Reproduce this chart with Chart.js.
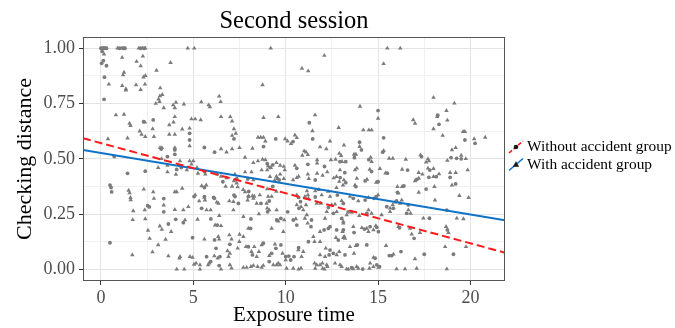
<!DOCTYPE html>
<html>
<head>
<meta charset="utf-8">
<script src="https://cdn.jsdelivr.net/npm/chart.js@4.4.0/dist/chart.umd.min.js"></script>
<style>
  html, body { margin: 0; padding: 0; background: #fff; }
  #wrap { width: 675px; height: 328px; }
</style>
</head>
<body>
<div id="wrap"><canvas id="myChart" width="675" height="328"></canvas></div>
<script>
// axis ranges and labelled ticks
var xRange = [-0.97, 21.87]
var yRange = [-0.053, 1.051]
var xTicks = [0, 5, 10, 15, 20]
var yTicks = [0, 0.25, 0.5, 0.75, 1]
var xGrid = [0, 2.5, 5, 7.5, 10, 12.5, 15, 17.5, 20]
var yGrid = [0, 0.125, 0.25, 0.375, 0.5, 0.625, 0.75, 0.875, 1]

var groups = ['Without accident group', 'With accident group']

// fitted lines, value at left and right panel edge
var withoutFit = [0.593, 0.075]
var withFit = [0.54, 0.222]

// points, [exposure time, checking distance]
var withoutPts = [
  [0,1],[0.1,1],[0.2,1],[0.3,1],[1.0,1],[1.2,1],[1.3,1],[2.15,1],[2.35,1],
  [0.07,0.985],[0.13,0.944],[0.04,0.932],[0.19,0.869],[0.17,0.769],[0.3,0.921],
  [2.83,0.676],[2.31,0.668],[3.26,0.544],[4.0,0.54],[4.0,0.52],[3.6,0.51],[0.72,0.51],
  [0.49,0.381],[0.55,0.37],[0.58,0.35],[0.49,0.12],[1.44,0.434],[2.4,0.444],[2.62,0.282],[3.4,0.32],
  [3.4,0.26],[4.05,0.226],[2.53,0.288],[3.65,0.205],[4.1,0.452],
  [4.8,0.615],[4.8,0.585],[5.6,0.551],[6.15,0.53],[7.2,0.59],[8.8,0.555],[9.46,0.59],[10.4,0.578],
  [11.46,0.59],[9.0,0.478],[9.15,0.46],[9.3,0.472],[10.6,0.457],[11.2,0.475],[12.1,0.465],[11.6,0.404],
  [12.95,0.415],[4.35,0.46],[5.6,0.442],[7.35,0.41],[7.95,0.408],[9.55,0.41],[9.65,0.404],[5.6,0.37],
  [6.1,0.325],[6.6,0.396],[7.2,0.336],[8.0,0.352],[9.3,0.375],[10.7,0.325],[11.6,0.327],[12.8,0.336],
  [4.46,0.211],[5.04,0.329],[5.6,0.329],[6.14,0.321],[5.45,0.276],[5.95,0.228],[6.3,0.2],[4.96,0.143],
  [6.15,0.133],[6.23,0.095],[5.72,0.057],[5.94,0.035],[6.4,0.017],[7.26,0.329],[7.44,0.298],[8.12,0.228],
  [7.98,0.329],[8.66,0.298],[9.11,0.309],[9.02,0.26],[9.51,0.223],[9.74,0.23],[8.1,0.185],[6.98,0.113],
  [7.98,0.102],[8.2,0.065],[8.79,0.118],[9.24,0.072],[9.47,0.095],[9.11,0.035],[9.74,0.11],[10.0,0.057],
  [10.17,0.06],[10.27,0.042],[10.41,0.223],[10.6,0.2],[10.11,0.26],[10.7,0.098],[10.45,0.057],[11.4,0.223],
  [11.37,0.193],[11.23,0.125],[10.8,0.306],[10.72,0.276],[12.35,0.065],[12.4,0.087],[12.58,0.072],
  [12.08,0.178],[12.31,0.185],[12.85,0.132],[12.31,0.279],[12.58,0.253],[12.4,0.193],[13.03,0.23],
  [12.76,0.178],[6.44,0.057],
  [14.0,0.575],[14.1,0.54],[15.25,0.53],[13.72,0.505],[14.5,0.496],[17.35,0.51],[18.95,0.505],[19.25,0.502],
  [19.5,0.5],[12.94,0.487],[13.25,0.487],[13.2,0.437],[14.65,0.442],[15.5,0.435],[16.6,0.449],[17.8,0.449],
  [17.75,0.416],[18.15,0.419],[18.9,0.416],[13.25,0.392],[13.8,0.374],[14.3,0.4],[15.0,0.396],[17.1,0.407],
  [16.4,0.377],[16.05,0.348],[17.6,0.363],[19.2,0.386],[14.9,0.329],[15.3,0.595],[18.3,0.656],[19.7,0.585],
  [20.25,0.57],
  [13.12,0.298],[13.66,0.321],[14.3,0.313],[14.78,0.321],[13.39,0.26],[14.39,0.253],[15.47,0.283],
  [15.83,0.276],[16.0,0.309],[16.64,0.291],[16.55,0.253],[17.78,0.231],[18.72,0.268],[13.12,0.178],
  [13.7,0.166],[14.26,0.182],[14.57,0.193],[14.93,0.19],[15.02,0.17],[16.16,0.188],[16.95,0.14],
  [18.75,0.178],[13.88,0.11],[14.39,0.11],[13.21,0.065],[14.84,0.05],[15.61,0.062],[15.74,0.062],
  [16.24,0.08],[17.5,0.068],[19.08,0.068],[13.57,0.007],[14.17,0.001],[14.93,0.02],[15.08,0.012],
  [15.0,0.718],[18.23,0.697],[11.28,0.663]
]

var withPts = [
  [0.05,1],[0.15,1],[0.25,1],[0.9,1],[1.1,1],[1.25,1],[2.05,1],[2.25,1],[2.4,1],[4.7,1],[5.05,1],
  [9.19,1],[15.5,1],[16.2,1],
  [0.17,0.973],[0.43,0.837],[1.15,0.958],[1.2,0.879],[1.25,0.891],[1.15,0.831],[1.35,0.816],[1.35,0.81],
  [1.93,0.94],[2.15,0.92],[2.27,0.964],[2.3,0.869],[2.41,0.876],[1.9,0.834],[2.15,0.813],[2.38,0.837],
  [3.01,0.9],[3.77,0.935],[3.21,0.82],[3.32,0.79],[3.19,0.784],[3.12,0.77],[2.97,0.75],[3.17,0.758],
  [3.4,0.73],[4.06,0.755],[3.91,0.743],[4.0,0.73],[4.49,0.747],[4.0,0.69],[3.93,0.666],[5.43,0.757],
  [5.83,0.743],[5.9,0.735],[6.4,0.783],[6.48,0.758],[3.7,0.653],[3.7,0.61],[2.8,0.635],[2.87,0.6],
  [2.38,0.665],[2.1,0.625],[2.2,0.61],[2.4,0.6],[1.44,0.593],[0.38,0.59],[1.55,0.66],[1.6,0.65],
  [0.81,0.698],[1.25,0.701],
  [1.5,0.357],[1.55,0.345],[1.6,0.324],[1.61,0.314],[1.75,0.264],[1.72,0.224],[1.7,0.065],[2.32,0.362],
  [2.37,0.268],[2.4,0.228],[2.55,0.176],[2.64,0.139],[2.79,0.078],[2.83,0.35],[2.87,0.32],[3.1,0.46],
  [3.28,0.5],[3.19,0.195],[3.3,0.18],[3.1,0.11],[3.4,0.29],[3.5,0.135],[3.2,0.55],[3.3,0.55],[3.6,0.47],
  [3.6,0.44],[3.65,0.06],[3.8,0.17],[4.0,0.61],[4.0,0.55],[4.0,0.35],[4.1,0.35],[4.0,0.27],[4.1,0],
  [4.25,0.05],[4.06,0.429],
  [4.4,0.634],[4.8,0.638],[4.8,0.558],[4.9,0.68],[5.1,0.68],[5.4,0.676],[6.5,0.69],[7.1,0.67],[7.0,0.69],
  [8.8,0.686],[9.6,0.69],[6.5,0.545],[6.8,0.53],[7.1,0.545],[7.5,0.55],[7.2,0.635],[7.1,0.605],[7.3,0.615],
  [8.5,0.597],[8.65,0.597],[8.8,0.597],[8.9,0.58],[9.97,0.59],[10.1,0.58],[10.5,0.607],[10.6,0.595],
  [11.45,0.626],[8.2,0.547],[7.8,0.506],[8.25,0.482],[8.5,0.49],[8.75,0.497],[8.9,0.495],[9.05,0.467],
  [9.2,0.46],[9.5,0.482],[9.7,0.47],[9.9,0.465],[9.95,0.449],[10.5,0.47],[11.1,0.53],[11.2,0.518],
  [10.9,0.515],[11.0,0.535],[11.86,0.553],[12.2,0.545],[11.7,0.495],[11.7,0.48],[12.45,0.495],[12.7,0.497],
  [12.9,0.524],[10.6,0.414],[10.7,0.42],[11.2,0.43],[11.25,0.41],[11.7,0.434],[12.0,0.425],[12.25,0.44],
  [12.6,0.413],[12.75,0.419],[12.9,0.397],[13.1,0.381],[4.28,0.49],[4.8,0.49],[5.0,0.49],[4.9,0.475],
  [4.65,0.449],[5.2,0.46],[5.25,0.434],[5.65,0.43],[6.3,0.43],[6.5,0.42],[6.8,0.413],[7.25,0.43],[7.2,0.4],
  [7.35,0.39],[7.8,0.44],[8.15,0.44],[8.25,0.404],[8.7,0.449],[9.0,0.449],[9.15,0.419],[9.4,0.402],
  [9.5,0.42],[9.7,0.43],[9.9,0.41],[10.4,0.404],[5.45,0.377],[5.7,0.381],[4.4,0.366],[5.1,0.336],
  [5.6,0.325],[6.75,0.375],[7.1,0.375],[7.4,0.372],[7.7,0.36],[7.8,0.35],[8.0,0.331],[8.3,0.33],[8.6,0.336],
  [9.0,0.363],[9.05,0.329],[9.5,0.352],[10.6,0.336],[11.15,0.354],[11.2,0.336],[11.6,0.354],[11.8,0.36],
  [11.95,0.336],[12.3,0.352],[12.4,0.329],[12.75,0.369],
  [12.87,0.641],[12.4,0.58],[10.29,0.568],[11.59,0.698],[12.09,0.967],[10.88,0.909],[11.22,0.897],
  [8.75,0.834],[14.02,0.737],
  [4.46,0.268],[4.73,0.283],[4.55,0.223],[5.32,0.309],[5.63,0.313],[6.27,0.303],[6.36,0.298],[5.72,0.268],
  [5.94,0.268],[5.23,0.226],[6.4,0.243],[6.18,0.2],[6.5,0.197],[5.6,0.136],[6.35,0.148],[6.4,0.136],
  [6.95,0.155],[7.07,0.136],[7.5,0.158],[6.85,0.083],[4.28,0.057],[4.82,0.057],[4.96,0.053],[6.14,0.06],
  [5.04,0.022],[5.15,0.027],[5.36,0.02],[5.8,0.02],[5.86,0.027],[4.51,0],[5.36,0],[6.5,0],[6.98,0.02],
  [7.07,0.005],[6.95,0.309],[7.17,0.306],[7.17,0.268],[7.71,0.238],[7.94,0.313],[8.25,0.321],[8.43,0.298],
  [8.2,0.332],[8.55,0.25],[8.97,0.298],[9.24,0.329],[9.0,0.276],[9.11,0.268],[9.6,0.218],[9.24,0.185],
  [7.98,0.185],[7.71,0.148],[7.49,0.125],[7.4,0.095],[7.85,0.102],[8.3,0.102],[8.15,0.08],[8.7,0.11],
  [8.43,0.057],[8.55,0.08],[9.42,0.113],[9.11,0.062],[7.71,0.008],[7.89,0.008],[8.12,0.012],[8.25,0.017],
  [8.48,0.012],[8.7,0.008],[8.79,0.017],[9.33,0.02],[9.51,0.02],[9.6,0.027],[9.69,0.02],[9.87,0.17],
  [9.83,0.072],[10.0,0.042],[10.05,0.004],[10.41,0.004],[10.7,0],[10.83,0.005],[9.92,0.223],[10.55,0.228],
  [9.51,0.268],[10.68,0.087],[10.86,0.057],[10.95,0.08],[11.04,0.23],[11.14,0.246],[11.19,0.208],
  [11.5,0.148],[11.56,0.125],[11.86,0.125],[11.04,0.329],[11.23,0.321],[11.1,0.291],[10.83,0.283],
  [10.95,0.268],[10.6,0.291],[11.56,0.027],[11.68,0.02],[11.86,0.02],[11.99,0.027],[12.22,0.02],
  [12.26,0.012],[11.6,0.004],[12.0,0.004],[12.1,0],[11.86,0.065],[12.13,0.057],[12.17,0.095],[12.76,0.065],
  [12.9,0.08],[12.67,0.027],[12.94,0.02],[13.03,0.012],[11.86,0.17],[12.72,0.143],[13.12,0.143],
  [11.68,0.298],[11.9,0.298],[12.22,0.26],[12.49,0.291],[12.67,0.294],[12.76,0.26],[12.13,0.23],
  [13.08,0.17],[13.17,0.148],[13.12,0.208],[6.32,0.05],[6.98,0.072],[6.9,0.057],
  [15.0,0.683],[16.9,0.676],[17.0,0.66],[18.2,0.69],[18.75,0.674],[14.2,0.63],[14.5,0.63],[14.65,0.63],
  [18.0,0.635],[18.5,0.605],[19.6,0.623],[19.7,0.623],[20.2,0.59],[20.8,0.597],[13.15,0.562],[14.0,0.555],
  [15.3,0.537],[13.0,0.514],[13.7,0.52],[13.8,0.52],[14.6,0.506],[14.65,0.487],[15.6,0.502],[15.8,0.502],
  [16.5,0.497],[17.3,0.517],[17.7,0.499],[17.75,0.49],[17.6,0.484],[18.75,0.492],[19.5,0.515],[19.75,0.5],
  [19.2,0.55],[19.0,0.54],[13.05,0.487],[12.94,0.449],[13.75,0.449],[13.85,0.457],[14.55,0.452],
  [15.1,0.455],[15.4,0.435],[16.3,0.452],[17.2,0.437],[17.4,0.43],[17.7,0.457],[18.0,0.455],[18.0,0.419],
  [18.3,0.431],[18.9,0.437],[19.2,0.437],[19.85,0.449],[13.15,0.404],[13.85,0.411],[13.75,0.381],
  [14.4,0.407],[14.9,0.393],[17.0,0.4],[17.2,0.411],[16.05,0.374],[16.3,0.374],[16.1,0.344],[17.2,0.348],
  [18.05,0.374],[19.0,0.381],[19.4,0.333],[19.9,0.324],[15.0,0.336],
  [15.3,0.93],[18.0,0.777],[19.13,0.751],[18.7,0.718],
  [13.03,0.31],[13.48,0.329],[13.93,0.309],[14.48,0.324],[13.3,0.246],[13.57,0.257],[13.98,0.243],
  [14.48,0.268],[14.65,0.253],[15.19,0.246],[15.65,0.276],[15.79,0.291],[15.92,0.303],[16.19,0.298],
  [15.65,0.26],[16.28,0.313],[16.76,0.253],[16.64,0.268],[17.45,0.231],[18.08,0.313],[19.26,0.231],
  [19.62,0.228],[13.12,0.216],[13.15,0.145],[13.21,0.14],[13.66,0.193],[14.12,0.188],[14.39,0.185],
  [14.75,0.178],[14.88,0.197],[14.48,0.17],[16.1,0.193],[16.73,0.185],[16.82,0.159],[17.27,0.166],
  [18.68,0.193],[18.81,0.166],[13.48,0.102],[13.8,0.107],[13.7,0.072],[14.75,0.053],[15.43,0.107],
  [15.83,0.068],[17.0,0.047],[18.63,0.102],[19.76,0.102],[13.3,0.001],[13.39,0],[13.66,0.001],[13.84,0.012],
  [13.93,0.004],[14.53,0.004],[14.75,0.012],[15.02,0.008],[14.57,0.027],[16.0,0.001],[16.46,0.001],
  [17.09,0.004],[18.72,0.001]
]

var serif = '"Liberation Serif", "Times New Roman", serif'
var pointGrey = '#7b7b7b'
var red = '#ff1a1a'
var blue = '#0f72c6'

function toXY(list) {
  return list.map(function (p) { return { x: p[0], y: p[1] } })
}

function isMajor(list, v) {
  return list.some(function (t) { return Math.abs(t - v) < 1e-6 })
}

// title over the panel, frame round it, and the key on the right
var extras = {
  id: 'extras',
  afterDraw: function (chart) {
    var ctx = chart.ctx
    var a = chart.chartArea
    ctx.save()
    ctx.strokeStyle = '#555555'
    ctx.lineWidth = 1
    ctx.strokeRect(Math.floor(a.left) + 0.5, Math.floor(a.top) + 0.5,
      Math.round(a.right - a.left) - 1, Math.round(a.bottom - a.top) - 1)

    ctx.fillStyle = '#000'
    ctx.font = '24.5px ' + serif
    ctx.textAlign = 'center'
    ctx.textBaseline = 'alphabetic'
    ctx.fillText('Second session', (a.left + a.right) / 2, 28)

    var keys = [
      { y: 147, color: red, dash: [4, 2], shape: 'circle' },
      { y: 164.5, color: blue, dash: [], shape: 'triangle' }
    ]
    keys.forEach(function (k, i) {
      ctx.strokeStyle = k.color
      ctx.lineWidth = 1.6
      ctx.setLineDash(k.dash)
      ctx.beginPath()
      ctx.moveTo(509, k.y + 6)
      ctx.lineTo(523, k.y - 6)
      ctx.stroke()
      ctx.setLineDash([])
      ctx.fillStyle = '#1a1a1a'
      ctx.beginPath()
      if (k.shape == 'circle') {
        ctx.arc(516, k.y, 2.3, 0, Math.PI * 2)
      } else {
        ctx.moveTo(516, k.y - 3.2)
        ctx.lineTo(519.2, k.y + 2.3)
        ctx.lineTo(512.8, k.y + 2.3)
        ctx.closePath()
      }
      ctx.fill()
      ctx.fillStyle = '#000'
      ctx.font = '15.4px ' + serif
      ctx.textAlign = 'left'
      ctx.textBaseline = 'middle'
      ctx.fillText(groups[i], 527, k.y)
    })
    ctx.restore()
  }
}

var myChart = document.getElementById('myChart').getContext('2d')

var chart = new Chart(myChart, {
  type: 'scatter',
  data: {
    datasets: [
      {
        label: groups[0] + ' fit',
        data: [{ x: xRange[0], y: withoutFit[0] }, { x: xRange[1], y: withoutFit[1] }],
        showLine: true,
        borderColor: red,
        borderWidth: 2,
        borderDash: [8, 4],
        pointRadius: 0,
        order: 0
      },
      {
        label: groups[1] + ' fit',
        data: [{ x: xRange[0], y: withFit[0] }, { x: xRange[1], y: withFit[1] }],
        showLine: true,
        borderColor: blue,
        borderWidth: 2,
        pointRadius: 0,
        order: 0
      },
      {
        label: groups[0],
        data: toXY(withoutPts),
        pointStyle: 'circle',
        pointRadius: 1.9,
        pointBorderWidth: 0,
        backgroundColor: pointGrey,
        borderColor: pointGrey,
        order: 1
      },
      {
        label: groups[1],
        data: toXY(withPts),
        pointStyle: 'triangle',
        pointRadius: 2.6,
        pointBorderWidth: 0,
        backgroundColor: pointGrey,
        borderColor: pointGrey,
        order: 2
      }
    ]
  },
  options: {
    responsive: false,
    animation: false,
    layout: { padding: { top: 37, right: 170, left: 0, bottom: 0 } },
    plugins: {
      legend: { display: false },
      title: { display: false },
      tooltip: { enabled: false }
    },
    scales: {
      x: {
        type: 'linear',
        min: xRange[0],
        max: xRange[1],
        afterBuildTicks: function (axis) {
          axis.ticks = xGrid.map(function (v) { return { value: v } })
        },
        afterFit: function (axis) { axis.height = 47 },
        border: { display: false },
        grid: {
          color: function (c) { return c.tick && isMajor(xTicks, c.tick.value) ? '#e4e4e4' : '#f0f0f0' },
          tickColor: function (c) { return c.tick && isMajor(xTicks, c.tick.value) ? '#333333' : 'rgba(0,0,0,0)' },
          tickLength: 4,
          lineWidth: 1
        },
        ticks: {
          autoSkip: false,
          maxRotation: 0,
          padding: 2,
          color: '#4d4d4d',
          font: { family: serif, size: 18 },
          callback: function (v) { return isMajor(xTicks, v) ? String(v) : '' }
        },
        title: {
          display: true,
          text: 'Exposure time',
          color: '#000',
          font: { family: serif, size: 21 },
          padding: { top: 0, bottom: 0 }
        }
      },
      y: {
        type: 'linear',
        min: yRange[0],
        max: yRange[1],
        afterBuildTicks: function (axis) {
          axis.ticks = yGrid.map(function (v) { return { value: v } })
        },
        afterFit: function (axis) { axis.width = 83 },
        border: { display: false },
        grid: {
          color: function (c) { return c.tick && isMajor(yTicks, c.tick.value) ? '#e4e4e4' : '#f0f0f0' },
          tickColor: function (c) { return c.tick && isMajor(yTicks, c.tick.value) ? '#333333' : 'rgba(0,0,0,0)' },
          tickLength: 4,
          lineWidth: 1
        },
        ticks: {
          autoSkip: false,
          padding: 4,
          color: '#4d4d4d',
          font: { family: serif, size: 18 },
          callback: function (v) { return isMajor(yTicks, v) ? v.toFixed(2) : '' }
        },
        title: {
          display: true,
          text: 'Checking distance',
          color: '#000',
          font: { family: serif, size: 22 },
          padding: { top: 12, bottom: 0 }
        }
      }
    }
  },
  plugins: [extras]
})
</script>
</body>
</html>
